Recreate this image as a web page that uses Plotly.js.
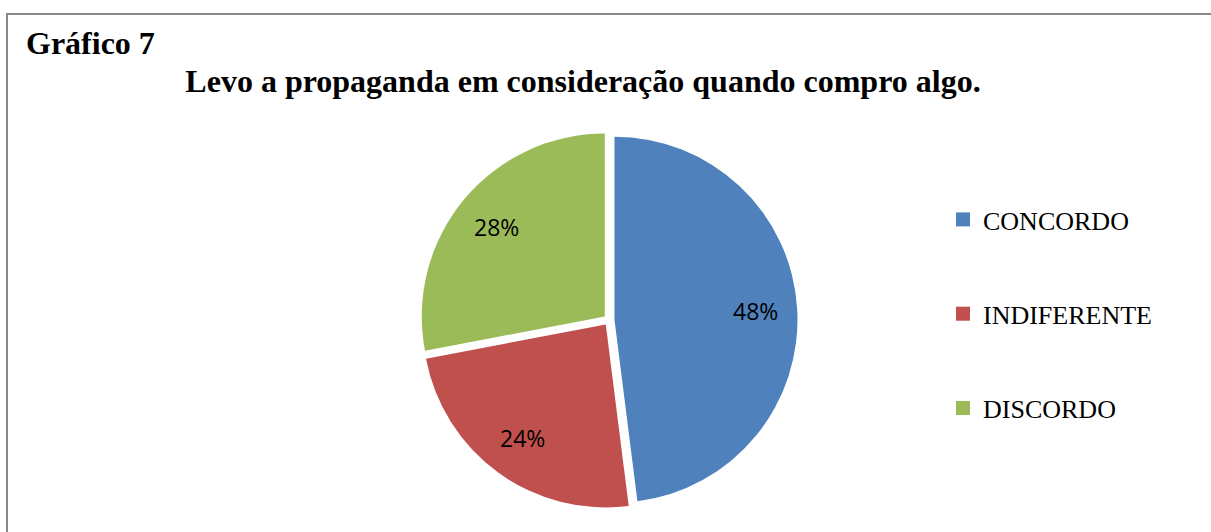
<!DOCTYPE html>
<html>
<head>
<meta charset="utf-8">
<script src="https://cdn.plot.ly/plotly-3.0.1.min.js"></script>
<style>
  html, body { margin: 0; padding: 0; background: #ffffff; }
  #chart { width: 1211px; height: 532px; }
</style>
</head>
<body>
<div id="chart"></div>
<script>
// Data
const categories = ["CONCORDO", "INDIFERENTE", "DISCORDO"];
const values = [48, 24, 28];
const colors = ["#4F81BD", "#C0504D", "#9BBB59"];
const chartLabel = "Gráfico 7";
const chartTitle = "Levo a propaganda em consideração quando compro algo.";

const W = 1211, H = 532;
const serif = "Liberation Serif, Times New Roman, serif";
const PULL = 0.03;
const domX = [420.5 / W, 797.5 / W];
const domY = [23.5 / H, 400.5 / H];

const pieTrace = {
  type: "pie",
  labels: categories,
  values: values,
  sort: false,
  direction: "clockwise",
  rotation: 0,
  pull: categories.map(() => PULL),
  marker: { colors: colors, line: { color: "#ffffff", width: 0 } },
  textinfo: "none",
  hoverinfo: "label+percent",
  showlegend: false,
  domain: { x: domX, y: domY }
};

// Percentage labels placed along each slice's mid-angle (derived from the values)
const total = values.reduce((a, b) => a + b, 0);
const rPx = Math.min((domX[1] - domX[0]) * W, (domY[1] - domY[0]) * H) / 2 / (1 + PULL);
const cxP = (domX[0] + domX[1]) / 2, cyP = (domY[0] + domY[1]) / 2;
let cum = 0;
const pctAnnotations = values.map((v) => {
  const mid = (cum + v / 2) / total * 2 * Math.PI;
  cum += v;
  const rr = 0.8 * rPx;
  return {
    text: Math.round(v / total * 100) + "%",
    xref: "paper", yref: "paper",
    x: cxP + rr * Math.sin(mid) / W,
    y: cyP + rr * Math.cos(mid) / H,
    xanchor: "center", yanchor: "middle",
    showarrow: false,
    font: { family: "Open Sans, sans-serif", size: 23, color: "#000000" }
  };
});

// Legend entries built from the category/colour arrays
const legendTraces = categories.map((c, i) => ({
  type: "scatter",
  mode: "markers",
  x: [null], y: [null],
  name: c,
  legendgroup: "g" + i,
  marker: { symbol: "square", size: 14, color: colors[i] },
  hoverinfo: "skip",
  showlegend: true
}));

const layout = {
  width: W, height: H,
  margin: { l: 0, r: 0, t: 0, b: 0 },
  paper_bgcolor: "#ffffff",
  plot_bgcolor: "rgba(0,0,0,0)",
  xaxis: { visible: false, range: [0, 1] },
  yaxis: { visible: false, range: [0, 1] },
  title: {
    text: chartTitle,
    x: 583 / W, xanchor: "center", xref: "paper",
    y: 1 - 81 / H, yanchor: "middle", yref: "paper",
    font: { family: serif, size: 32, color: "#000000", weight: "bold" }
  },
  annotations: [{
    text: chartLabel,
    xref: "paper", yref: "paper",
    x: 24 / W, xanchor: "left",
    y: 1 - 43 / H, yanchor: "middle",
    showarrow: false,
    font: { family: serif, size: 32, color: "#000000", weight: "bold" }
  }].concat(pctAnnotations),
  shapes: [{
    type: "rect", xref: "paper", yref: "paper",
    x0: 7 / W, x1: 1.05, y0: -0.05, y1: 1 - 14 / H,
    line: { color: "#888888", width: 2 },
    fillcolor: "rgba(0,0,0,0)"
  }],
  showlegend: true,
  legend: {
    x: 943 / W, xanchor: "left",
    y: 1 - 196 / H, yanchor: "top",
    traceorder: "grouped",
    tracegroupgap: 57.5,
    font: { family: serif, size: 26, color: "#000000" },
    bgcolor: "rgba(0,0,0,0)",
    itemclick: false, itemdoubleclick: false
  }
};

Plotly.newPlot("chart", [pieTrace].concat(legendTraces), layout, { displayModeBar: false, staticPlot: true });
</script>
</body>
</html>
